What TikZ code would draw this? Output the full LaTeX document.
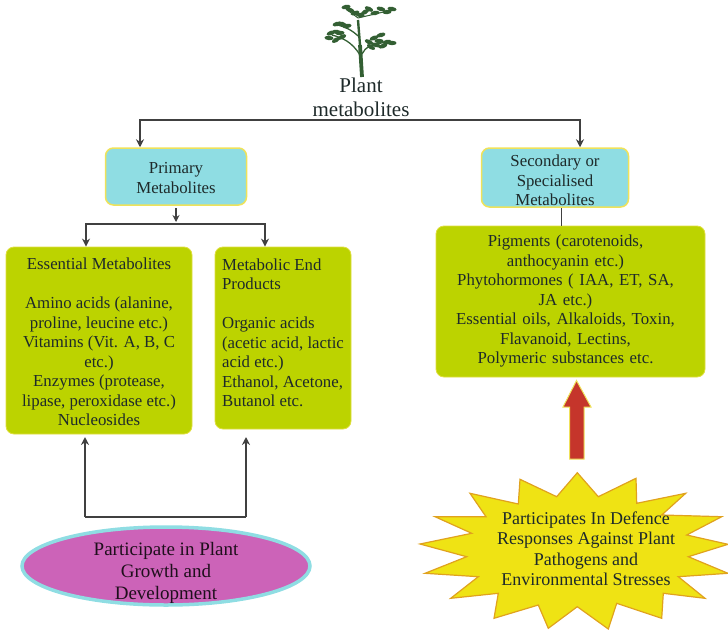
\documentclass[tikz,border=0pt]{standalone}
\usepackage{fontspec}
\setmainfont{Liberation Serif}
\usetikzlibrary{arrows.meta,positioning,calc,shapes.geometric}
\definecolor{capblue}{HTML}{8FDDE3}
\definecolor{leafgreen}{HTML}{BCD300}
\definecolor{edgeyellow}{HTML}{EFE25A}
\definecolor{ovalpink}{HTML}{CC63B8}
\definecolor{burstyellow}{HTML}{EFE314}
\definecolor{burstedge}{HTML}{E0A21E}
\definecolor{uparrowred}{HTML}{C5352B}
\definecolor{treegreen}{HTML}{335F33}
\definecolor{inktext}{HTML}{1E2A2A}
\tikzset{
  label text/.style={font=\fontsize{16.8}{19.5}\selectfont,text=inktext,align=center,inner sep=0pt},
  capbox/.style={label text,draw=edgeyellow,fill=capblue,line width=1.5pt,rounded corners=8pt},
  bodybox/.style={label text,draw=edgeyellow!70!leafgreen,fill=leafgreen,line width=0.8pt,rounded corners=8pt},
  link/.style={draw=black!75,line width=1.4pt,-{Stealth[length=8pt,width=8pt]}},
  plain link/.style={draw=black!75,line width=1.4pt},
}
\begin{document}
\begin{tikzpicture}[x=1pt,y=-1pt]
  \useasboundingbox (0,0) rectangle (728,629);
  % tree above the root label
  \draw[treegreen,line width=3.8pt] (362,77) -- (360,45);
  \draw[treegreen,line width=2.4pt] (360,45) -- (358,20);
  \draw[treegreen,line width=1.3pt] (360,55) .. controls (352,42) and (343,38) .. (332,35);
  \draw[treegreen,line width=1.3pt] (358,36) .. controls (352,30) and (345,27) .. (338,25);
  \draw[treegreen,line width=1.3pt] (362,54) .. controls (365,47) and (372,44) .. (388,42);
  \draw[treegreen,line width=1pt] (358,18) -- (346,9);
  \draw[treegreen,line width=1pt] (358,18) -- (392,10);
  \foreach \x/\y/\a in {346/7/10,350/10/-20,355/13/15,360/15/-10,365/12/30,369/9/-25,375/13/10,381/9/-15,387/12/5,392/9/-10,
    337/24/15,342/24/-15,347/26/10,331/33/20,337/32/-10,342/37/25,329/38/-5,336/40/30,340/33/5,
    369/42/-25,374/38/20,381/35/15,387/42/10,392/43/0,376/45/-15,383/46/20,371/47/-30,379/41/0} {
    \fill[treegreen,rotate around={\a:(\x,\y)}] (\x,\y) ellipse (4.6pt and 2.2pt);
  }

  \node[label text,font=\fontsize{21}{24}\selectfont] (root) at (361,97) {Plant\\metabolites};
  \node[capbox,minimum width=141pt,minimum height=57pt] (primary) at (176,176.5) {\rule{0pt}{14.5pt}Primary\\Metabolites};
  \node[capbox,minimum width=147pt,minimum height=59pt] (secondary) at (555,177.5) {\rule{0pt}{17.5pt}Secondary or\\Specialised\\Metabolites};
  \node[bodybox,minimum width=186pt,minimum height=187pt] (essential) at (99,340.5)
    {\rule{0pt}{14.5pt}Essential Metabolites\\[19.5pt]Amino acids (alanine,\\proline, leucine etc.)\\Vitamins (Vit. A, B, C\\etc.)\\Enzymes (protease,\\lipase, peroxidase etc.)\\Nucleosides};
  \node[bodybox,minimum width=136pt,minimum height=182pt] (endprod) at (283,338)
    {\begin{tabular}{@{}l@{}}Metabolic End\\Products\\[19.5pt]Organic acids\\(acetic acid, lactic\\acid etc.)\\Ethanol, Acetone,\\Butanol etc.\\[7pt]\end{tabular}};
  \node[bodybox,minimum width=269pt,minimum height=151pt,text width=258pt] (pigments) at (570.5,301.5)
    {\hspace*{-10pt}\begin{tabular}{@{}c@{}}Pigments (carotenoids,\\anthocyanin etc.)\\Phytohormones ( IAA, ET, SA,\\JA etc.)\\Essential oils, Alkaloids, Toxin,\\Flavanoid, Lectins,\\Polymeric substances etc.\end{tabular}};
  \node[ellipse,draw=capblue,fill=ovalpink,line width=3.5pt,minimum width=288pt,minimum height=78pt,inner sep=0pt] (growth) at (166,566) {};
  \node[label text,text=black!85!ovalpink,font=\fontsize{19}{22}\selectfont] (growthtext) at (166,573) {Participate in Plant\\Growth and\\Development};

  % tree split and stems
  \coordinate (rootsplit) at (361,120);
  \coordinate (primaryfoot) at (176,208);
  \coordinate (primarytip) at (176,222);
  \coordinate (endsplit) at (176,224);
  \coordinate (growthleft) at (85,517);
  \coordinate (growthright) at (246,517);
  \draw[link] (rootsplit) -| ([xshift=-36pt]primary.north);
  \draw[link] (rootsplit) -| ([xshift=25pt]secondary.north);
  \draw[link,-{Stealth[length=7pt,width=7pt]}] (primaryfoot) -- (primarytip);
  \draw[link] (endsplit) -| ([xshift=-13pt]essential.north);
  \draw[link] (endsplit) -| ([xshift=-18pt]endprod.north);
  \draw[plain link] (growthleft) -- (growthright);
  \draw[link] (growthleft) -- (85,437);
  \draw[link] (growthright) -- (246,437);
  \draw[plain link,line width=0.8pt] ([xshift=6pt]secondary.south) -- ([xshift=-9.5pt]pigments.north);

  % thick red arrow
  \draw[fill=uparrowred,draw=edgeyellow,line width=1pt,line join=miter]
    (576.5,380.5) -- (591,407) -- (584,407) -- (584,459) -- (569.5,459) -- (569.5,407) -- (563,407) -- cycle;

  % burst outline, outer and inner points in turn
  \draw[fill=burstyellow,draw=burstedge,line width=1.2pt,line join=miter]
    (577.3,472.7) -- (598.3,496.7) -- (636,478.3) -- (636.7,503.3) -- (685.7,493.3) -- (661.7,515)
    -- (721.7,516.7) -- (686.7,535) -- (728,544.3) -- (688.3,556.7) -- (728,573.3) -- (678.3,576.7)
    -- (705,598.3) -- (663.3,593.3) -- (661.7,618.3) -- (616.7,603.3) -- (608.3,629) -- (577.3,606.7)
    -- (548.3,628.3) -- (538.3,605) -- (494,618.3) -- (498.3,593.3) -- (450.7,598.3) -- (478.3,576.7)
    -- (425,573.3) -- (466.7,556.7) -- (420,544) -- (471.7,533.3) -- (435,516.7) -- (486,516.7)
    -- (470,493.3) -- (518.3,504) -- (520,479.3) -- (556.7,496.7) -- cycle;
  \node[label text,font=\fontsize{18}{20.5}\selectfont] (bursttext) at (586,548.5) {Participates In Defence\\Responses Against Plant\\Pathogens and\\Environmental Stresses};
\end{tikzpicture}
\end{document}
